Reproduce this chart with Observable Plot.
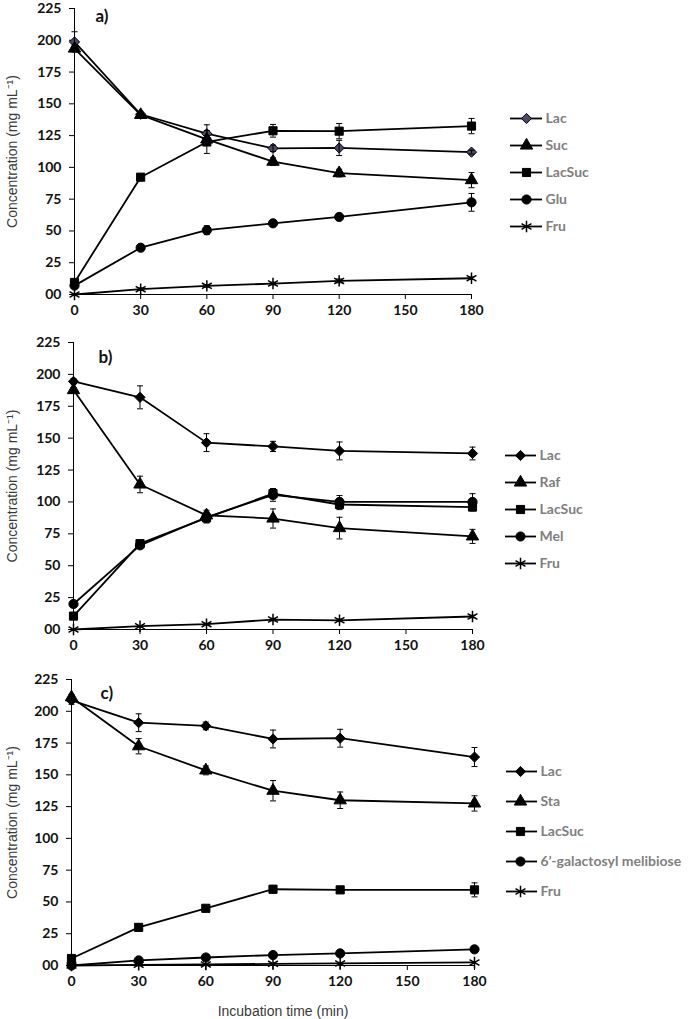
<!DOCTYPE html>
<html><head><meta charset="utf-8">
<script src="https://cdn.jsdelivr.net/npm/d3@7"></script>
<script src="https://cdn.jsdelivr.net/npm/@observablehq/plot@0.6"></script>
<style>
body{margin:0;background:#fff;}
#root{position:relative;width:688px;height:1019px;overflow:hidden;background:#fff;}
.abs{position:absolute;}
</style></head><body><div id="root"></div>
<script>
// ---------- data ----------
const times = [0, 30, 60, 90, 120, 180];
const xTicks = [0, 30, 60, 90, 120, 150, 180];
const yTicks = [0, 25, 50, 75, 100, 125, 150, 175, 200, 225];
const yLabel = "Concentration (mg mL\u207B\u00B9)";
const xLabel = "Incubation time (min)";

// panel a
const aNames = ["Lac", "Suc", "LacSuc", "Glu", "Fru"];
const aLac = [198.7, 141.8, 126.5, 115, 115.3, 112];
const aLacErr = [8, 1.5, 7, 2.5, 6, 1.5];
const aSuc = [193.5, 141.3, 122, 104.5, 95.5, 90];
const aSucErr = [2, 2, 3, 3, 3, 6];
const aLacSuc = [9.5, 92.3, 120, 128.8, 128.5, 132.5];
const aLacSucErr = [2, 2, 9, 5, 6, 6];
const aGlu = [7, 36.8, 50.6, 56, 61, 72.5];
const aGluErr = [1, 1.5, 3.5, 1.5, 2, 7];
const aFru = [0, 4.2, 6.8, 8.6, 10.7, 12.8];
const aFruErr = [0.5, 1, 1, 1, 1.5, 1];

// panel b
const bNames = ["Lac", "Raf", "LacSuc", "Mel", "Fru"];
const bLac = [194.5, 182, 146.5, 143.5, 140, 138];
const bLacErr = [2, 9, 7, 4, 7, 5];
const bRaf = [187.7, 113.7, 89.5, 87, 79.5, 73];
const bRafErr = [2, 6.5, 4, 7.5, 8.5, 5.5];
const bLacSuc = [10.5, 67.3, 87.5, 106.5, 98, 96];
const bLacSucErr = [1, 2, 4, 4, 4, 3];
const bMel = [20, 66, 88, 105.5, 100, 100];
const bMelErr = [1, 2, 4, 5, 5, 6.5];
const bFru = [0, 2.6, 4.2, 7.8, 7.2, 10.2];
const bFruErr = [0, 0.5, 0.5, 1, 1, 1];

// panel c
const cNames = ["Lac", "Sta", "LacSuc", "6\u2019-galactosyl melibiose", "Fru"];
const cLac = [208.5, 191, 188.5, 178.2, 178.8, 164];
const cLacErr = [3, 7, 3, 7, 7, 7.5];
const cSta = [211, 172.5, 153.5, 137.5, 130, 127.5];
const cStaErr = [2, 6, 3.5, 8, 6.5, 6];
const cLacSuc = [5.5, 30, 45, 60, 59.5, 59.5];
const cLacSucErr = [1, 1.5, 1.5, 3, 2, 5.5];
const cGal = [0, 4, 6.3, 8.2, 9.5, 12.7];
const cGalErr = [0, 0.5, 0.5, 0.5, 0.5, 0.5];
const cFru = [0, 0.5, 0.8, 1.3, 1.6, 2.4];
const cFruErr = [0, 0, 0, 0, 0, 0];

const symbols = ["diamond2", "triangle", "square", "circle", "asterisk"];

// ---------- helpers ----------
const hline = {draw(ctx, size) { const w = Math.sqrt(size / Math.PI); ctx.moveTo(-w, 0); ctx.lineTo(w, 0); }};
const R = 4.6;

function rows(vals, errs) { return times.map((t, i) => ({t, v: vals[i], e: errs[i]})); }

function dotOpts(sym, fill) {
  if (sym === "asterisk") return {symbol: sym, r: R + 0.8, fill: "none", stroke: "black", strokeWidth: 1.5};
  return {symbol: sym, r: R, fill, stroke: "black", strokeWidth: 1};
}

function makePanel(cfg) {
  const marks = [
    Plot.ruleX([0], {stroke: "black", strokeWidth: 1}),
    Plot.ruleY([0], {stroke: "black", strokeWidth: 1}),
    Plot.axisY({ticks: yTicks, tickFormat: d => d === 0 ? "00" : String(d), tickSize: 5, tickPadding: 8,
      fontWeight: "bold", fontSize: 14, fill: "#111", label: null}),
    Plot.axisX({ticks: xTicks, tickSize: 5, tickPadding: 6, fontWeight: "bold", fontSize: 14, fill: "#111", label: null}),
    Plot.text([yLabel], {frameAnchor: "left", dx: -(cfg.ml - 12), rotate: -90, text: d => d,
      textAnchor: "middle", lineAnchor: "middle",
      fontFamily: "Liberation Sans", fontSize: 14, fill: "#3a3a3a", fontWeight: "normal"}),
    Plot.text([cfg.tag], {frameAnchor: "top-left", dx: cfg.tagDx, dy: cfg.tagDy, text: d => d,
      textAnchor: "start", fontWeight: "bold", fontSize: 17, fill: "#111"})
  ];
  if (cfg.xLabel) marks.push(Plot.text([cfg.xLabel], {frameAnchor: "bottom", dx: 10, dy: 46, text: d => d,
    textAnchor: "middle", lineAnchor: "middle",
    fontFamily: "Liberation Sans", fontSize: 14, fill: "#3a3a3a", fontWeight: "normal"}));
  const data = cfg.series.map(s => rows(s.vals, s.errs));
  data.forEach(d => marks.push(Plot.line(d, {x: "t", y: "v", stroke: "black", strokeWidth: 1.8})));
  cfg.series.forEach((s, k) => marks.push(Plot.dot(data[k], {x: "t", y: "v", ...dotOpts(s.symbol, s.fill)})));
  data.forEach(d => {
    const e = d.filter(r => r.e > 0);
    marks.push(Plot.ruleX(e, {x: "t", y1: r => r.v - r.e, y2: r => r.v + r.e, stroke: "black", strokeWidth: 1}));
    marks.push(Plot.dot(e, {x: "t", y: r => r.v + r.e, symbol: hline, r: 3, stroke: "black", strokeWidth: 1}));
    marks.push(Plot.dot(e, {x: "t", y: r => r.v - r.e, symbol: hline, r: 3, stroke: "black", strokeWidth: 1}));
  });
  const p = Plot.plot({
    width: 688, height: cfg.height,
    marginTop: cfg.mt, marginBottom: cfg.mb, marginLeft: cfg.ml, marginRight: cfg.mr,
    x: {domain: [0, 180]}, y: {domain: [0, 225]},
    style: {fontFamily: "Lato", fontSize: "14px", background: "transparent", overflow: "visible"},
    marks
  });
  p.classList.add("abs");
  p.style.left = "0px"; p.style.top = cfg.top + "px";
  return p;
}

function makeLegend(cfg) {
  const names = cfg.series.map(s => s.name);
  const marks = [
    Plot.ruleY(names, {y: d => d, x1: cfg.lx1, x2: cfg.lx2, stroke: "black", strokeWidth: 1.8})
  ];
  cfg.series.forEach(s => marks.push(Plot.dot([s.name], {x: () => cfg.dotX, y: d => d, ...dotOpts(s.symbol, s.fill)})));
  marks.push(Plot.text(names, {x: () => cfg.tx, y: d => d, text: d => d, textAnchor: "start",
    fontWeight: "bold", fontSize: 14, fill: "#7f7f7f"}));
  const p = Plot.plot({
    width: cfg.w, height: cfg.h, margin: 0,
    x: {domain: [0, cfg.w], range: [0, cfg.w]},
    y: {type: "point", domain: names, range: cfg.yr, padding: 0},
    axis: null,
    style: {fontFamily: "Lato", background: "transparent", overflow: "visible"},
    marks
  });
  p.classList.add("abs");
  p.style.left = cfg.left + "px"; p.style.top = cfg.top + "px";
  return p;
}

const aSeries = [
  {name: aNames[0], vals: aLac, errs: aLacErr, symbol: symbols[0], fill: "#4f4766"},
  {name: aNames[1], vals: aSuc, errs: aSucErr, symbol: symbols[1], fill: "black"},
  {name: aNames[2], vals: aLacSuc, errs: aLacSucErr, symbol: symbols[2], fill: "black"},
  {name: aNames[3], vals: aGlu, errs: aGluErr, symbol: symbols[3], fill: "black"},
  {name: aNames[4], vals: aFru, errs: aFruErr, symbol: symbols[4], fill: "none"}
];
const bSeries = [
  {name: bNames[0], vals: bLac, errs: bLacErr, symbol: symbols[0], fill: "black"},
  {name: bNames[1], vals: bRaf, errs: bRafErr, symbol: symbols[1], fill: "black"},
  {name: bNames[2], vals: bLacSuc, errs: bLacSucErr, symbol: symbols[2], fill: "black"},
  {name: bNames[3], vals: bMel, errs: bMelErr, symbol: symbols[3], fill: "black"},
  {name: bNames[4], vals: bFru, errs: bFruErr, symbol: symbols[4], fill: "none"}
];
const cSeries = [
  {name: cNames[0], vals: cLac, errs: cLacErr, symbol: symbols[0], fill: "black"},
  {name: cNames[1], vals: cSta, errs: cStaErr, symbol: symbols[1], fill: "black"},
  {name: cNames[2], vals: cLacSuc, errs: cLacSucErr, symbol: symbols[2], fill: "black"},
  {name: cNames[3], vals: cGal, errs: cGalErr, symbol: symbols[3], fill: "black"},
  {name: cNames[4], vals: cFru, errs: cFruErr, symbol: symbols[4], fill: "none"}
];

const root = document.getElementById("root");
root.appendChild(makePanel({series: aSeries, top: 0, height: 330, mt: 8, mb: 36, ml: 74, mr: 217, tag: "a)", tagDx: 21, tagDy: 1}));
root.appendChild(makePanel({series: bSeries, top: 330, height: 330, mt: 12, mb: 31, ml: 73, mr: 216, tag: "b)", tagDx: 25, tagDy: 8}));
root.appendChild(makePanel({series: cSeries, top: 660, height: 359, mt: 19, mb: 54, ml: 71, mr: 214, tag: "c)", tagDx: 29, tagDy: 7, xLabel}));

root.appendChild(makeLegend({series: aSeries, left: 510, top: 100, w: 178, h: 140, yr: [16, 127.7], lx1: 0, lx2: 32, dotX: 16, tx: 35}));
root.appendChild(makeLegend({series: bSeries, left: 505, top: 440, w: 183, h: 140, yr: [13.3, 125], lx1: 0, lx2: 31, dotX: 15, tx: 34}));
root.appendChild(makeLegend({series: cSeries, left: 506, top: 760, w: 182, h: 145, yr: [10, 131], lx1: 0, lx2: 31, dotX: 14, tx: 34}));
</script>
</body></html>
